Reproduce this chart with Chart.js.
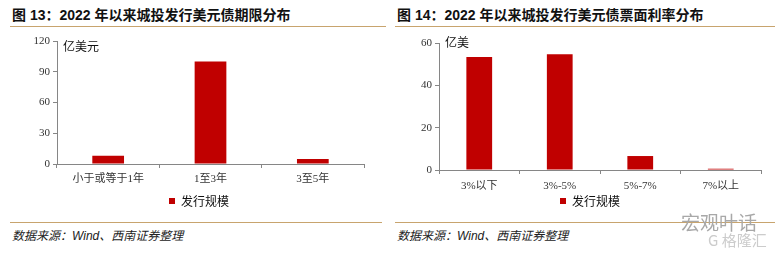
<!DOCTYPE html>
<html><head><meta charset="utf-8">
<script src="https://cdn.jsdelivr.net/npm/chart.js@4"></script>
<style>
html,body{margin:0;padding:0;background:#fff;width:779px;height:255px;overflow:hidden;position:relative;font-family:"Liberation Sans","Noto Sans CJK SC",sans-serif;}
.abs{position:absolute;white-space:nowrap;}
.title{font-size:14px;font-weight:bold;color:#111;top:6px;line-height:18px;}
.line{position:absolute;height:1px;background:#C8A46E;}
.src{font-size:12px;font-style:italic;color:#222;top:228px;line-height:16px;}
.unit{font-size:12px;color:#111;font-family:"Noto Sans CJK SC",sans-serif;line-height:14px;}
canvas{position:absolute;}
</style></head><body>
<div class="abs title" style="left:12px;">图 13：2022 年以来城投发行美元债期限分布</div>
<div class="abs title" style="left:397px;">图 14：2022 年以来城投发行美元债票面利率分布</div>
<div class="line" style="left:10px;width:376px;top:26px;"></div>
<div class="line" style="left:395px;width:380px;top:26px;"></div>
<div class="line" style="left:10px;width:372px;top:222px;"></div>
<div class="line" style="left:395px;width:380px;top:222px;"></div>
<div class="abs src" style="left:12px;">数据来源：Wind、西南证券整理</div>
<div class="abs src" style="left:397px;">数据来源：Wind、西南证券整理</div>
<div style="position:absolute;left:0;top:30px;width:385px;height:190px;"><canvas id="c1" width="385" height="190"></canvas></div>
<div style="position:absolute;left:390px;top:30px;width:389px;height:190px;"><canvas id="c2" width="389" height="190"></canvas></div>
<div class="abs unit" style="left:63px;top:39px;">亿美元</div>
<div class="abs unit" style="left:445px;top:35px;">亿美</div>
<div class="abs" style="left:681px;top:211px;font-size:19px;color:#a8a8a8;font-family:'Noto Sans CJK SC';line-height:22px;">宏观叶话</div>
<div class="abs" style="left:708px;top:231px;font-size:15px;color:#cccccc;font-family:'Noto Sans CJK SC';line-height:18px;">G 格隆汇</div>
<script>
const termCategories = ["小于或等于1年", "1至3年", "3至5年"];
const termValues = [8, 100, 5];
const termTicks = [0, 30, 60, 90, 120];
const couponCategories = ["3%以下", "3%-5%", "5%-7%", "7%以上"];
const couponValues = [53.4, 54.7, 6.6, 0.6];
const couponTicks = [0, 20, 40, 60];
const seriesName = "发行规模";

const RED = "#C00000";
const AXIS = "#868686";
const tickFont = {family: "'Liberation Serif','Noto Sans CJK SC',serif", size: 11};

function makeChart(id, cats, vals, ticks, o) {
  return new Chart(document.getElementById(id), {
    type: "bar",
    data: {labels: cats, datasets: [{label: seriesName, data: vals, backgroundColor: RED, borderWidth: 0,
      categoryPercentage: 1, barPercentage: o.barPct}]},
    options: {
      responsive: false, animation: false, devicePixelRatio: 1,
      layout: {padding: {left: o.padL, right: o.padR, top: o.padT, bottom: o.padB}},
      plugins: {
        tooltip: {enabled: false},
        legend: {position: "bottom", labels: {boxWidth: 6, boxHeight: 6, padding: o.legPad, color: "#111",
          font: {family: "'Noto Sans CJK SC',sans-serif", size: 12}}}
      },
      scales: {
        x: {
          grid: {display: true, drawOnChartArea: false, drawTicks: true, tickLength: 4, color: AXIS, offset: true},
          border: {display: true, color: AXIS},
          ticks: {color: "#333", font: tickFont, padding: o.xPad, maxRotation: 0},
          afterFit: s => { s.height = o.xH; }
        },
        y: {
          min: ticks[0], max: ticks[ticks.length - 1],
          afterBuildTicks: s => { s.ticks = ticks.map(v => ({value: v})); },
          grid: {display: true, drawOnChartArea: false, drawTicks: true, tickLength: 4, color: AXIS},
          border: {display: true, color: AXIS},
          ticks: {color: "#333", font: tickFont, padding: 3},
          afterFit: s => { s.width = o.yW; }
        }
      }
    }
  });
}

makeChart("c1", termCategories, termValues, termTicks,
  {barPct: 0.31, padL: 34, padR: 21, padT: 11, padB: 3, xH: 24, yW: 23, legPad: 7, xPad: 5});
makeChart("c2", couponCategories, couponValues, couponTicks,
  {barPct: 0.32, padL: 29, padR: 18, padT: 13, padB: 3, xH: 22, yW: 20, legPad: 3, xPad: 6});
</script>
</body></html>
